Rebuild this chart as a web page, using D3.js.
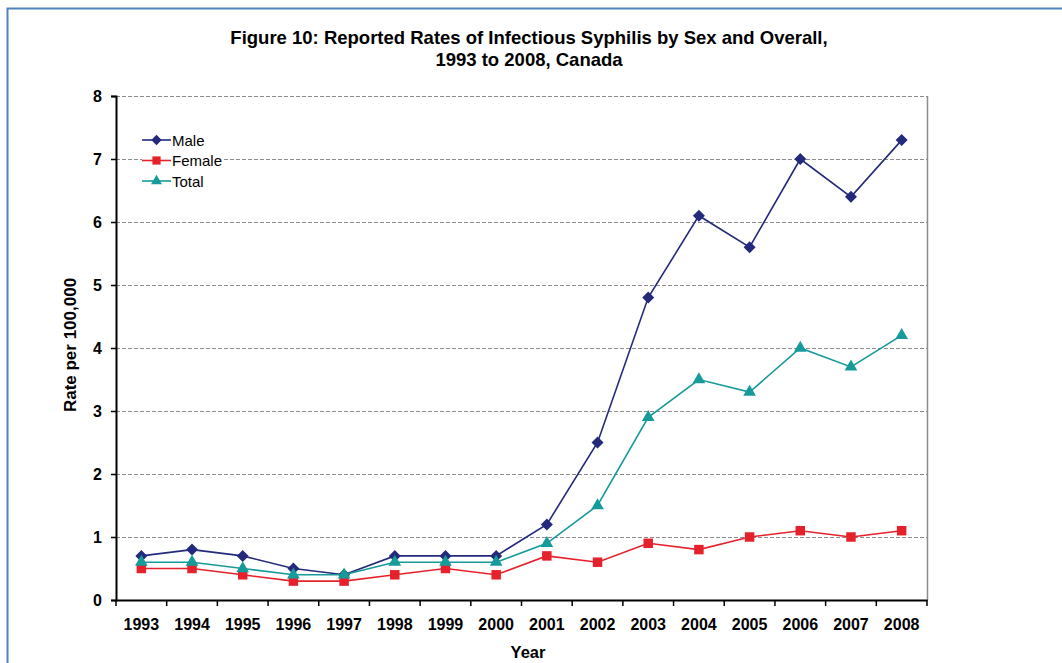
<!DOCTYPE html>
<html>
<head>
<meta charset="utf-8">
<script src="https://cdn.jsdelivr.net/npm/d3@7"></script>
<style>
  html, body { margin: 0; padding: 0; background: #fff; }
  svg { display: block; font-family: "Liberation Sans", Arial, sans-serif; }
</style>
</head>
<body>
<svg id="chart" width="1062" height="663"></svg>
<script>
// Reported rates of infectious syphilis per 100,000, Canada
const years = ["1993","1994","1995","1996","1997","1998","1999","2000","2001","2002","2003","2004","2005","2006","2007","2008"];
const male   = [0.7, 0.8, 0.7, 0.5, 0.4, 0.7, 0.7, 0.7, 1.2, 2.5, 4.8, 6.1, 5.6, 7.0, 6.4, 7.3];
const female = [0.5, 0.5, 0.4, 0.3, 0.3, 0.4, 0.5, 0.4, 0.7, 0.6, 0.9, 0.8, 1.0, 1.1, 1.0, 1.1];
const total  = [0.6, 0.6, 0.5, 0.4, 0.4, 0.6, 0.6, 0.6, 0.9, 1.5, 2.9, 3.5, 3.3, 4.0, 3.7, 4.2];
const yTicks = [0, 1, 2, 3, 4, 5, 6, 7, 8];

const FONT = "'Liberation Sans', Arial, sans-serif";

// diamond drawn as a square turned 45 degrees
const rhombus = {
  draw(ctx, size) {
    const r = Math.sqrt(size / 2);
    ctx.moveTo(0, -r); ctx.lineTo(r, 0); ctx.lineTo(0, r); ctx.lineTo(-r, 0); ctx.closePath();
  }
};

const series = [
  { name: "Male",   values: male,   color: "#232A7B", shape: rhombus,          size: 72 },
  { name: "Female", values: female, color: "#E5222B", shape: d3.symbolSquare,   size: 90 },
  { name: "Total",  values: total,  color: "#179A9A", shape: d3.symbolTriangle, size: 70 }
];

const svg = d3.select("#chart");

// outer frame
svg.append("rect")
  .attr("x", 7.5).attr("y", 8.5).attr("width", 1070).attr("height", 700)
  .attr("fill", "none").attr("stroke", "#4F81BD").attr("stroke-width", 2);

const plotLeft = 116, plotRight = 927, plotTop = 96, plotBottom = 600;

const x = d3.scaleBand().domain(years).range([plotLeft, plotRight]).paddingInner(0).paddingOuter(0);
const y = d3.scaleLinear().domain([0, 8]).range([plotBottom, plotTop]);

// title
const title = svg.append("text")
  .attr("text-anchor", "middle").attr("font-family", FONT)
  .attr("font-weight", "bold").attr("font-size", 18.5).attr("fill", "#000");
title.append("tspan").attr("x", 529).attr("y", 44).text("Figure 10: Reported Rates of Infectious Syphilis by Sex and Overall,");
title.append("tspan").attr("x", 529).attr("y", 66).text("1993 to 2008, Canada");

// gridlines
svg.append("g")
  .selectAll("line")
  .data(yTicks.filter(d => d > 0))
  .join("line")
  .attr("x1", plotLeft).attr("x2", plotRight)
  .attr("y1", d => Math.round(y(d)) + 0.5).attr("y2", d => Math.round(y(d)) + 0.5)
  .attr("stroke", "#8c8c8c").attr("stroke-width", 1)
  .attr("stroke-dasharray", "4,2");

// right border
svg.append("line")
  .attr("x1", plotRight + 0.5).attr("x2", plotRight + 0.5)
  .attr("y1", plotTop).attr("y2", plotBottom)
  .attr("stroke", "#8c8c8c").attr("stroke-width", 1.5);

// y axis
const yAxis = svg.append("g")
  .attr("transform", `translate(${plotLeft},0)`)
  .call(d3.axisLeft(y).tickValues(yTicks).tickFormat(d3.format("d")).tickSize(5).tickPadding(9));
yAxis.select(".domain").attr("stroke", "#000").attr("stroke-width", 2);
yAxis.selectAll(".tick line").attr("stroke", "#000").attr("stroke-width", 1.5);
yAxis.selectAll(".tick text").attr("font-size", 16).attr("font-weight", "bold").attr("fill", "#000")
  .attr("font-family", FONT);

// x axis with ticks at category boundaries
const xAxis = svg.append("g")
  .attr("transform", `translate(0,${plotBottom})`)
  .call(d3.axisBottom(x).tickSize(0).tickPadding(19));
xAxis.select(".domain").attr("stroke", "#000").attr("stroke-width", 2);
xAxis.selectAll(".tick text").attr("font-size", 16).attr("font-weight", "bold").attr("fill", "#000")
  .attr("font-family", FONT);
xAxis.append("g")
  .selectAll("line")
  .data(years.map(d => x(d)).concat([plotRight]))
  .join("line")
  .attr("x1", d => d).attr("x2", d => d)
  .attr("y1", 0).attr("y2", 6)
  .attr("stroke", "#000").attr("stroke-width", 1.5);

// axis titles
svg.append("text")
  .attr("transform", `translate(76,345) rotate(-90)`)
  .attr("text-anchor", "middle").attr("font-family", FONT)
  .attr("font-weight", "bold").attr("font-size", 17).attr("fill", "#000")
  .text("Rate per 100,000");
svg.append("text")
  .attr("x", 528).attr("y", 658)
  .attr("text-anchor", "middle").attr("font-family", FONT)
  .attr("font-weight", "bold").attr("font-size", 16.5).attr("fill", "#000")
  .text("Year");

// lines and markers
const cx = i => x(years[i]) + x.bandwidth() / 2;
const line = d3.line().x((d, i) => cx(i)).y(d => y(d));

series.forEach(s => {
  svg.append("path")
    .datum(s.values)
    .attr("d", line)
    .attr("fill", "none")
    .attr("stroke", s.color)
    .attr("stroke-width", 1.6);
  svg.append("g")
    .selectAll("path")
    .data(s.values)
    .join("path")
    .attr("transform", (d, i) => `translate(${cx(i)},${y(d)})`)
    .attr("d", d3.symbol().type(s.shape).size(s.size))
    .attr("fill", s.color);
});

// legend
const legend = svg.append("g").attr("transform", "translate(142,140)");
series.forEach((s, i) => {
  const g = legend.append("g").attr("transform", `translate(0,${i * 20.5})`);
  g.append("rect").attr("x", 0).attr("y", -8).attr("width", 82).attr("height", 16).attr("fill", "#fff");
  g.append("line").attr("x1", 0).attr("x2", 29).attr("y1", 0).attr("y2", 0)
    .attr("stroke", s.color).attr("stroke-width", 1.6);
  g.append("path").attr("transform", "translate(14.5,0)")
    .attr("d", d3.symbol().type(s.shape).size(s.size * 0.75))
    .attr("fill", s.color);
  g.append("text").attr("x", 30).attr("y", 5.5).attr("font-family", FONT)
    .attr("font-size", 15).attr("fill", "#000")
    .text(s.name);
});
</script>
</body>
</html>
